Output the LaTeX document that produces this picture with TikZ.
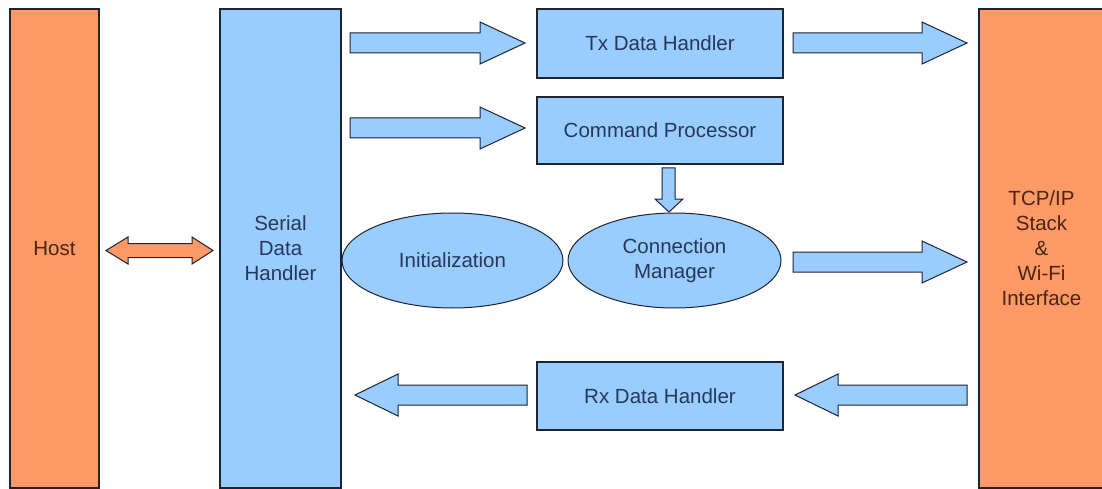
\documentclass[tikz,border=0pt]{standalone}
\usepackage{fontspec}
\setmainfont{Liberation Sans}
\usetikzlibrary{shapes.geometric}
\definecolor{boxblue}{HTML}{99CCFF}
\definecolor{boxorange}{HTML}{FF9966}
\definecolor{edge}{HTML}{1E2433}
\definecolor{txtblue}{HTML}{27385A}
\definecolor{txtbrown}{HTML}{4A2514}
\tikzset{
  blk/.style={draw=edge, line width=1.4pt, fill=boxblue, text=txtblue, inner sep=0pt,
    font=\fontsize{20.5}{25}\selectfont, align=center},
  org/.style={blk, fill=boxorange, text=txtbrown},
  oval/.style={blk, ellipse, line width=1pt},
  barrow/.style={draw=edge, line width=1pt, fill=boxblue, line join=miter},
  oarrow/.style={barrow, fill=boxorange},
}
% right-pointing block arrow: tail x, tip x, centre y
\newcommand\rblock[3]{\draw[barrow] (#1,#3-10) -- (#2-45,#3-10) -- (#2-45,#3-21) -- (#2,#3) -- (#2-45,#3+21) -- (#2-45,#3+10) -- (#1,#3+10) -- cycle;}
% left-pointing block arrow: tail x, tip x, centre y
\newcommand\lblock[3]{\draw[barrow] (#1,#3-10) -- (#2+43,#3-10) -- (#2+43,#3-21) -- (#2,#3) -- (#2+43,#3+21) -- (#2+43,#3+10) -- (#1,#3+10) -- cycle;}
\begin{document}
\begin{tikzpicture}[x=1pt,y=-1pt]
\useasboundingbox[fill=white] (0,0) rectangle (1102,489);
% boxes
\node[org, minimum width=89pt, minimum height=479pt] (host) at (54.5,248.5) {Host};
\node[blk, minimum width=121pt, minimum height=479pt] (serial) at (280.5,248.5) {Serial\\Data\\Handler};
\node[blk, minimum width=246pt, minimum height=69pt] (tx) at (660,43.5) {Tx Data Handler};
\node[blk, minimum width=246pt, minimum height=67pt] (cp) at (660,130.5) {Command Processor};
\node[oval, minimum width=221pt, minimum height=95pt] (init) at (452.5,260.5) {Initialization};
\node[oval, minimum width=213pt, minimum height=95pt] (cm) at (674.5,260.5) {Connection\\Manager};
\node[blk, minimum width=246pt, minimum height=68pt] (rx) at (660,396) {Rx Data Handler};
\node[org, minimum width=125pt, minimum height=479pt] (tcp) at (1041.5,248.5) {TCP/IP\\Stack\\\&\\Wi-Fi\\Interface};
% arrows
\rblock{350}{525}{43}
\rblock{350}{525}{128}
\rblock{793}{967}{43}
\rblock{793}{967}{262}
\lblock{527}{355}{395}
\lblock{967}{795}{395}
% down arrow Command Processor -> Connection Manager
\draw[barrow] (662,168) -- (675,168) -- (675,199) -- (683,199) -- (669,212) -- (655,199) -- (662,199) -- cycle;
% double arrow Host <-> Serial
\draw[oarrow] (106,250.5) -- (128,237) -- (128,243.5) -- (192,243.5) -- (192,237) -- (213,250.5) -- (192,264) -- (192,257.5) -- (128,257.5) -- (128,264) -- cycle;
\end{tikzpicture}
\end{document}
